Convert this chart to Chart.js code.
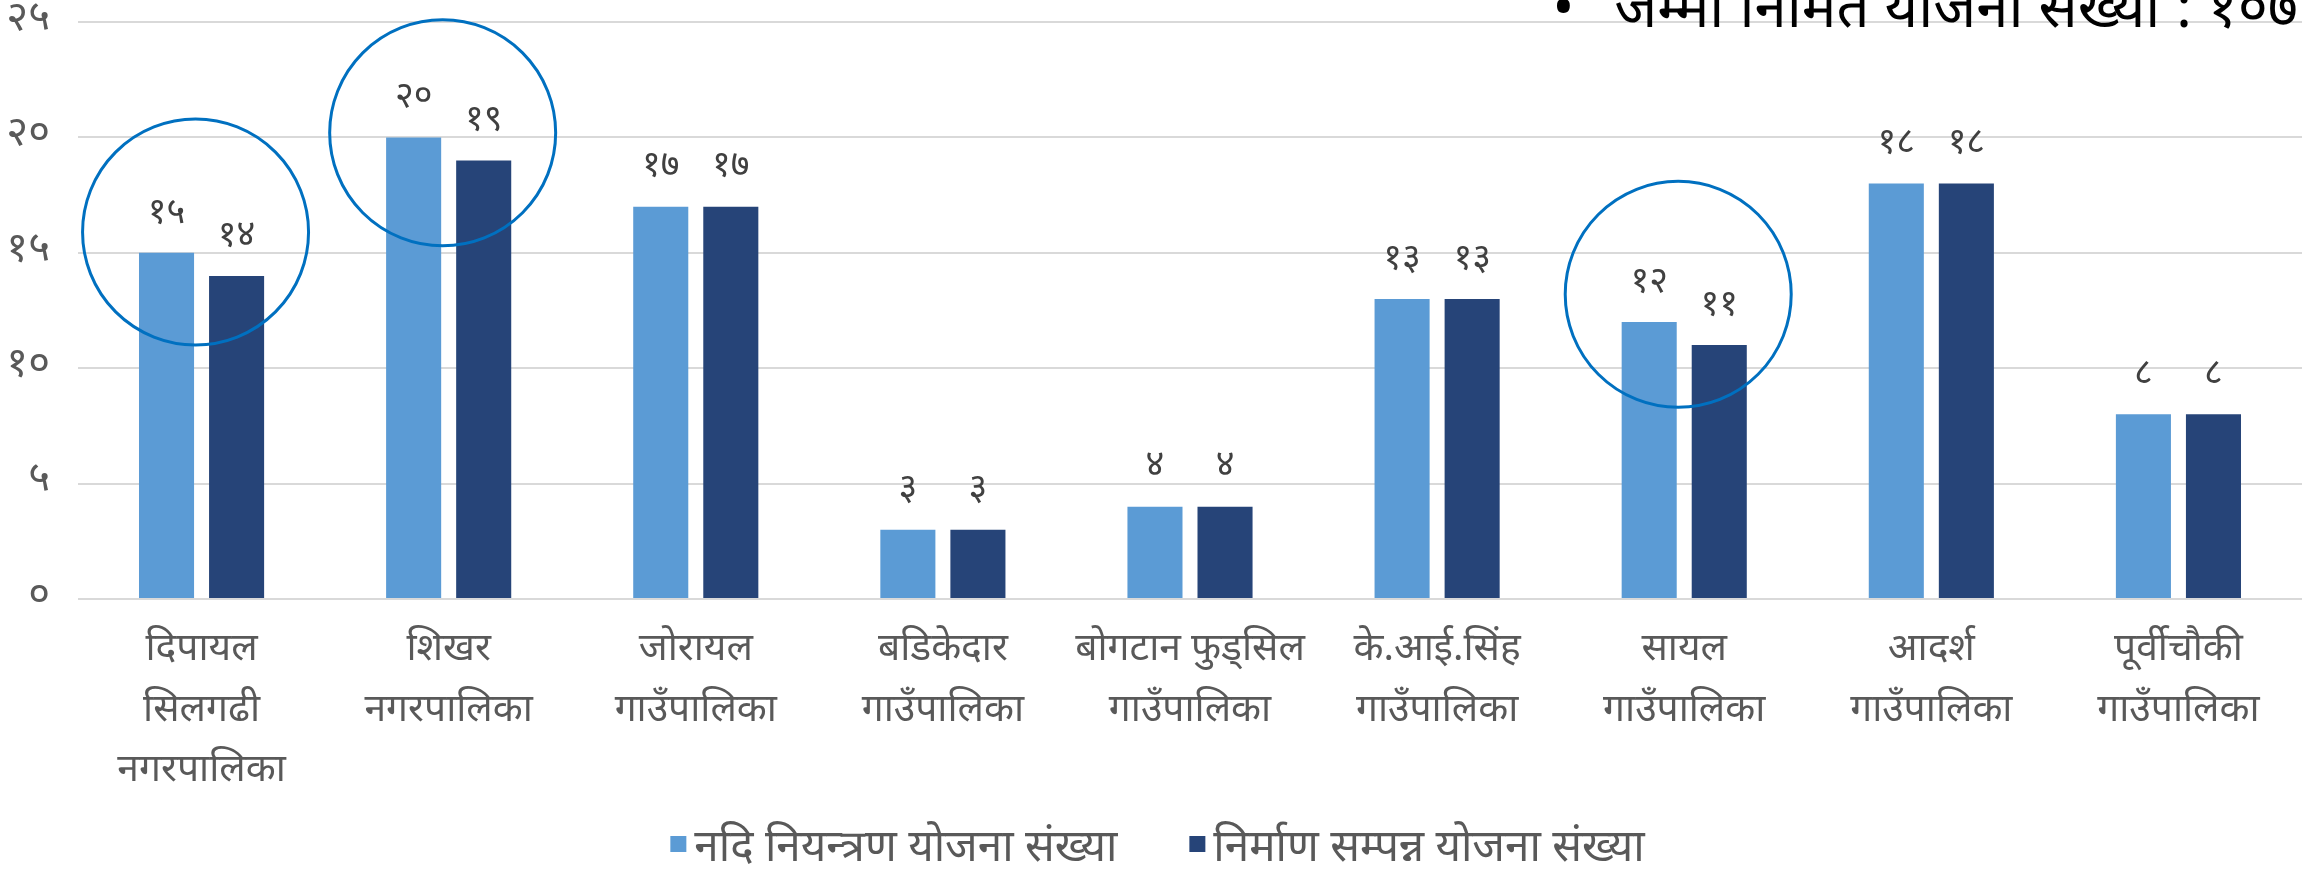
<!DOCTYPE html>
<html>
<head>
<meta charset="utf-8">
<script src="https://cdn.jsdelivr.net/npm/chart.js@4.4.0/dist/chart.umd.min.js"></script>
<style>
  html, body { margin: 0; padding: 0; background: #fff; }
  #wrap { width: 2315px; height: 872px; position: relative; }
</style>
</head>
<body>
<div id="wrap"><canvas id="yojanaChart"></canvas></div>
<script>
// data
const categories = [
  ['दिपायल', 'सिलगढी', 'नगरपालिका'],
  ['शिखर', 'नगरपालिका'],
  ['जोरायल', 'गाउँपालिका'],
  ['बडिकेदार', 'गाउँपालिका'],
  ['बोगटान फुड्सिल', 'गाउँपालिका'],
  ['के.आई.सिंह', 'गाउँपालिका'],
  ['सायल', 'गाउँपालिका'],
  ['आदर्श', 'गाउँपालिका'],
  ['पूर्वीचौकी', 'गाउँपालिका']
];
const niyantranYojana = [15, 20, 17, 3, 4, 13, 12, 18, 8];
const sampannaYojana = [14, 19, 17, 3, 4, 13, 11, 18, 8];
const seriesNames = ['नदि नियन्त्रण योजना संख्या', 'निर्माण सम्पन्न योजना संख्या'];
const yTicks = [0, 5, 10, 15, 20, 25];
const totalNote = 'जम्मा निर्मित योजना संख्या : १०७';

// groups ringed in blue, with the value the ring is centred on
const circledGroups = [0, 1, 6];
const circleCentres = [15.9, 20.2, 13.2];

const FONT = '"Noto Sans Devanagari", "Noto Sans", sans-serif';
const nepDigits = ['०', '१', '२', '३', '४', '५', '६', '७', '८', '९'];
function toNep(n) {
  return String(n).split('').map(d => nepDigits[+d] ?? d).join('');
}

// value labels above bars
const barLabels = {
  id: 'barLabels',
  afterDatasetsDraw(chart) {
    const ctx = chart.ctx;
    ctx.save();
    ctx.font = '36px ' + FONT;
    ctx.fillStyle = '#404040';
    ctx.textAlign = 'center';
    ctx.textBaseline = 'middle';
    chart.data.datasets.forEach((ds, i) => {
      chart.getDatasetMeta(i).data.forEach((bar, j) => {
        ctx.fillText(toNep(ds.data[j]), bar.x, bar.y - 37);
      });
    });
    ctx.restore();
  }
};

// legend drawn by hand: small square sits level with the top of the text
const bottomLegend = {
  id: 'bottomLegend',
  afterDraw(chart) {
    const ctx = chart.ctx;
    const ds = chart.data.datasets;
    const box = 16, gap = 8, itemGap = 72, cy = 853;
    ctx.save();
    ctx.font = '44px ' + FONT;
    ctx.textBaseline = 'middle';
    ctx.textAlign = 'left';
    const widths = ds.map(d => box + gap + ctx.measureText(d.label).width);
    const total = widths.reduce((a, b) => a + b, 0) + itemGap * (ds.length - 1);
    let x = (chart.width - total) / 2;
    ds.forEach((d, i) => {
      ctx.fillStyle = d.backgroundColor;
      ctx.fillRect(x, cy - 17, box, box);
      ctx.fillStyle = '#595959';
      ctx.fillText(d.label, x + box + gap, cy);
      x += widths[i] + itemGap;
    });
    ctx.restore();
  }
};

// blue rings + the clipped note in the top right
const extras = {
  id: 'extras',
  afterDraw(chart) {
    const ctx = chart.ctx;
    const xs = chart.scales.x, ys = chart.scales.y;
    ctx.save();
    ctx.strokeStyle = '#0070C0';
    ctx.lineWidth = 3;
    circledGroups.forEach((g, k) => {
      ctx.beginPath();
      ctx.arc(xs.getPixelForValue(g) - 6, ys.getPixelForValue(circleCentres[k]), 113, 0, Math.PI * 2);
      ctx.stroke();
    });
    ctx.font = '58px ' + FONT;
    ctx.fillStyle = '#000';
    ctx.textAlign = 'right';
    ctx.textBaseline = 'alphabetic';
    ctx.fillText(totalNote, 2298, 27);
    const w = ctx.measureText(totalNote).width;
    ctx.fillText('•', 2298 - w - 40, 27);
    ctx.restore();
  }
};

const ctx1 = document.getElementById('yojanaChart');
new Chart(ctx1, {
  type: 'bar',
  data: {
    labels: categories,
    datasets: [{
      label: seriesNames[0],
      data: niyantranYojana,
      backgroundColor: '#5B9BD5',
      categoryPercentage: 0.567,
      barPercentage: 0.786
    }, {
      label: seriesNames[1],
      data: sampannaYojana,
      backgroundColor: '#264478',
      categoryPercentage: 0.567,
      barPercentage: 0.786
    }]
  },
  options: {
    responsive: true,
    maintainAspectRatio: false,
    animation: false,
    layout: { padding: { top: 0, right: 13, left: 0, bottom: 0 } },
    plugins: {
      tooltip: { enabled: false },
      legend: { display: false }
    },
    scales: {
      x: {
        grid: { display: false },
        border: { display: false },
        ticks: {
          font: { family: FONT, size: 39, lineHeight: 1.56 },
          color: '#595959',
          maxRotation: 0,
          autoSkip: false,
          padding: 15
        },
        afterFit(scale) { scale.height = 273; }
      },
      y: {
        min: 0,
        max: 25,
        afterBuildTicks(scale) { scale.ticks = yTicks.map(v => ({ value: v })); },
        grid: { color: '#d9d9d9', lineWidth: 2, drawTicks: false },
        border: { display: false },
        ticks: {
          font: { family: FONT, size: 42 },
          color: '#595959',
          padding: 28,
          callback: v => toNep(v)
        },
        afterFit(scale) {
          scale.width = 78;
          scale.paddingTop = 22;
          scale.paddingBottom = 0;
        }
      }
    }
  },
  plugins: [barLabels, bottomLegend, extras]
});
</script>
</body>
</html>
